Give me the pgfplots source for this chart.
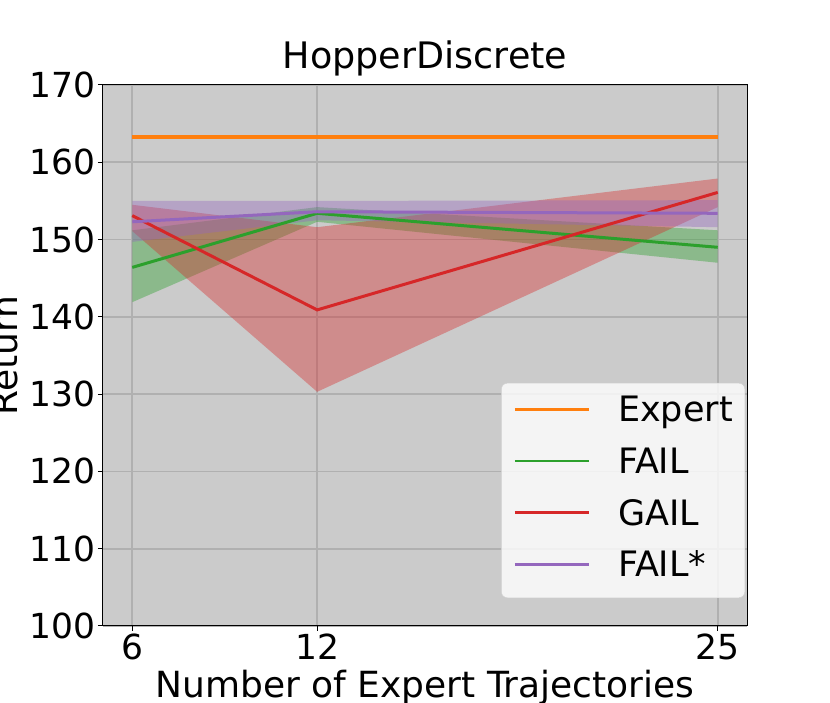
\documentclass[border=0pt]{standalone}
\usepackage{fontspec}
\setmainfont{DejaVu Sans}
\usepackage{pgfplots}
\pgfplotsset{compat=1.18}
\usepgfplotslibrary{fillbetween}
\definecolor{cOrange}{HTML}{FF7F0E}
\definecolor{cGreen}{HTML}{2CA02C}
\definecolor{cRed}{HTML}{D62728}
\definecolor{cPurple}{HTML}{9467BD}
\definecolor{bgGray}{HTML}{CBCBCB}
\definecolor{gridGray}{HTML}{B0B0B0}
\definecolor{legEdge}{HTML}{D0D0D0}
\begin{document}
\begin{tikzpicture}
\begin{axis}[
  at={(0pt,0pt)}, anchor=south west,
  scale only axis, width=644pt, height=541pt,
  xmin=5.05, xmax=25.95, ymin=100, ymax=170,
  xtick={6,12,25}, ytick={100,110,...,170},
  axis background/.style={fill=bgGray},
  grid=major, grid style={color=gridGray, line width=1.6pt},
  axis line style={black, line width=1pt},
  tick pos=left, tick align=outside, major tick length=5pt,
  tick style={black, line width=1pt},
  font=\fontsize{34.5}{41}\selectfont,
  /pgf/number format/assume math mode=true,
  yticklabel style={anchor=east, inner sep=0pt, xshift=-2pt},
  xticklabel style={anchor=north, inner sep=0pt, yshift=-3pt},
  title={HopperDiscrete},
  title style={at={(0.5,1)}, anchor=base, yshift=10pt, inner sep=0pt, font=\fontsize{36.5}{43}\selectfont},
  xlabel={Number of Expert Trajectories},
  xlabel style={at={(axis description cs:0.5,0)}, anchor=base, yshift=-72pt, inner sep=0pt, font=\fontsize{36}{43}\selectfont},
  ylabel={Return},
  ylabel style={at={(axis description cs:-0.1335,0.5)}, anchor=base, inner sep=0pt, font=\fontsize{36}{43}\selectfont},
  legend style={at={(0.9969,0.0518)}, anchor=south east, draw=legEdge,
    fill=white, fill opacity=0.8, text opacity=1, rounded corners=6pt,
    inner xsep=12pt, inner ysep=14pt, row sep=20.2pt, column sep=28pt,
    nodes={inner sep=0pt, text height=24.5pt, text depth=7pt, anchor=base west},
    font=\fontsize{35}{42}\selectfont},
  legend cell align=left,
  legend image code/.code={\draw[#1, line width=2.7pt, draw opacity=1, sharp corners] (0pt,12.5pt) -- (74pt,12.5pt);},
]
% bands
\addplot[name path=gU, draw=none, forget plot] coordinates {(6,151.2) (12,154.2) (25,151.2)};
\addplot[name path=gL, draw=none, forget plot] coordinates {(6,141.9) (12,152.3) (25,147.0)};
\addplot[fill=cGreen, fill opacity=0.4, draw=none, forget plot] fill between[of=gU and gL];
\addplot[name path=rU, draw=none, forget plot] coordinates {(6,154.5) (12,151.6) (25,157.9)};
\addplot[name path=rL, draw=none, forget plot] coordinates {(6,151.1) (12,130.3) (25,154.2)};
\addplot[fill=cRed, fill opacity=0.38, draw=none, forget plot] fill between[of=rU and rL];
\addplot[name path=pU, draw=none, forget plot] coordinates {(6,155.0) (12,155.0) (25,155.1)};
\addplot[name path=pL, draw=none, forget plot] coordinates {(6,149.7) (12,152.5) (25,151.6)};
\addplot[fill=cPurple, fill opacity=0.4, draw=none, forget plot] fill between[of=pU and pL];
% lines
\addplot[cOrange, line width=3.6pt] coordinates {(6,163.3) (12,163.3) (25,163.3)};
\addlegendentry{Expert}
\addplot[cGreen, line width=3pt] coordinates {(6,146.4) (12,153.4) (25,149.0)};
\addlegendentry{FAIL}
\addplot[cRed, line width=3pt] coordinates {(6,153.1) (12,140.9) (25,156.1)};
\addlegendentry{GAIL}
\addplot[cPurple, line width=3pt] coordinates {(6,152.3) (12,153.6) (25,153.4)};
\addlegendentry{FAIL*}
\end{axis}
\pgfresetboundingbox
\useasboundingbox (-103pt,-77pt) rectangle (727pt,626pt);
\end{tikzpicture}
\end{document}
